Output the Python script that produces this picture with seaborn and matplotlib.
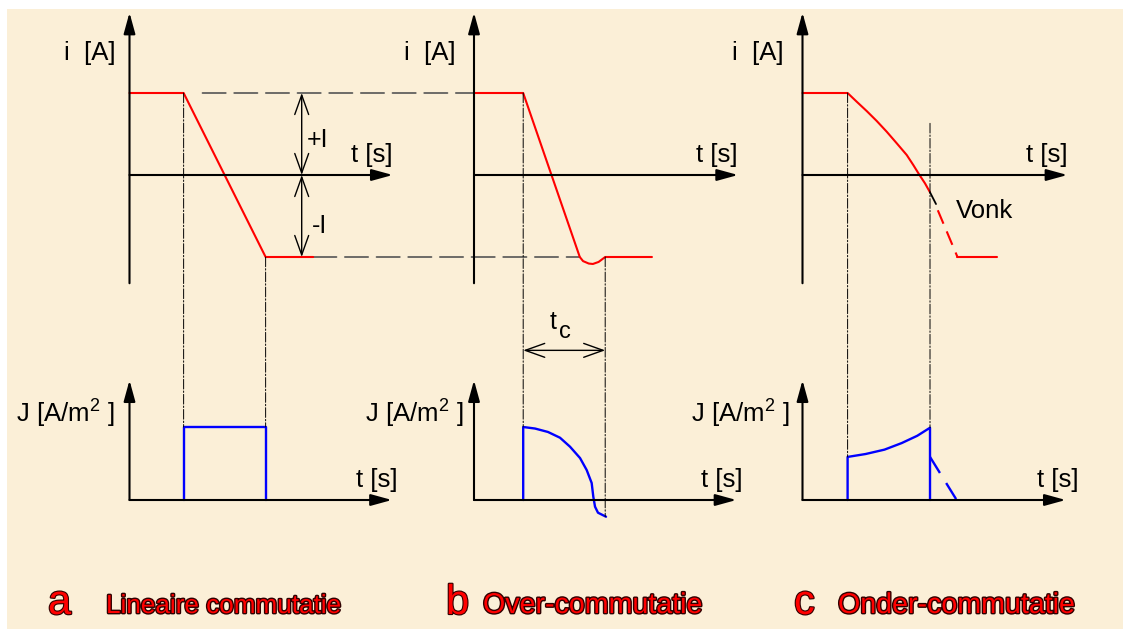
import matplotlib
matplotlib.use("Agg")
import matplotlib.pyplot as plt
import matplotlib.patheffects as pe
from matplotlib.patches import ConnectionPatch, Rectangle
import seaborn as sns

sns.set_style("white")
plt.rcParams["font.family"] = ["Liberation Sans", "DejaVu Sans"]
plt.rcParams["text.color"] = "black"

# ---------------------------------------------------------------------------
# Current i(t) in units of I, time in units of the commutation period
# ---------------------------------------------------------------------------
t_lin = [0.0, 0.66, 1.66, 2.24]
i_lin = [1.0, 1.0, -1.0, -1.0]

t_over = [0.0, 0.60, 1.29, 1.33, 1.40, 1.45, 1.52, 1.60, 2.17]
i_over = [1.0, 1.0, -1.0, -1.05, -1.08, -1.085, -1.06, -1.0, -1.0]

t_under = [0.0, 0.55, 0.661, 0.783, 0.905, 1.027, 1.149, 1.271, 1.351,
           1.421, 1.494, 1.555]
i_under = [1.0, 1.0, 0.894, 0.780, 0.659, 0.528, 0.387, 0.244, 0.122,
           0.009, -0.102, -0.211]
t_spark_arc = [1.555, 1.628]
i_spark_arc = [-0.211, -0.354]
t_spark = [1.65, 1.89]
i_spark = [-0.43, -1.0]
t_under_end = [1.89, 2.37]
i_under_end = [-1.0, -1.0]

# ---------------------------------------------------------------------------
# Current density J(t) under the brush, in units of the nominal density
# ---------------------------------------------------------------------------
tJ_lin = [0.66, 0.66, 1.66, 1.66]
J_lin = [0.0, 1.0, 1.0, 0.0]

tJ_over = [0.60, 0.60, 0.744, 0.902, 1.049, 1.171, 1.293, 1.374, 1.435,
           1.455, 1.476, 1.512, 1.61]
J_over = [0.0, 1.0, 0.979, 0.932, 0.853, 0.730, 0.575, 0.411, 0.233,
          0.045, -0.092, -0.174, -0.229]

tJ_under = [0.55, 0.55, 0.77, 1.00, 1.21, 1.40, 1.555, 1.555]
J_under = [0.0, 0.59, 0.63, 0.69, 0.78, 0.88, 0.99, 0.0]
tJ_under_tail = [1.555, 1.88]
J_under_tail = [0.59, 0.0]

# guide lines: (t, level in i-plot, level in J-plot)
guides = [
    [(0.66, 1.0, 1.0), (1.66, -1.0, 1.0)],
    [(0.60, 1.0, 1.0), (1.60, -1.0, -0.229)],
    [(0.55, 1.0, 0.59), (1.555, 0.63, 0.99)],
]

letters = ["a", "b", "c"]
titles = ["Lineaire commutatie", "Over-commutatie", "Onder-commutatie"]

# ---------------------------------------------------------------------------
# Layout (pixels)
# ---------------------------------------------------------------------------
W, H = 1123, 629
BG = "#FBEFD7"
RED = "#FF0000"
BLUE = "#0000FF"
PX_T, PX_I, PX_J = 82, 82, 73
ORIGIN_X = [129.5, 474, 802.5]
ORIGIN_Y_I, ORIGIN_Y_J = 175, 500
TMAX_I = [3.21, 3.22, 3.23]
TMAX_J = [3.20, 3.20, 3.21]
I_LO, I_HI = -1.32, 1.98
J_LO, J_HI = -0.30, 1.64

fig = plt.figure(figsize=(W / 100, H / 100), dpi=100)
fig.patch.set_facecolor("white")
fig.add_artist(Rectangle((7 / W, 0), (W - 7) / W, (H - 9) / H,
                         transform=fig.transFigure, facecolor=BG,
                         edgecolor="none", zorder=-10))


def make_axes(x0, y0, t_max, lo, hi, px_v):
    left = x0 / W
    bottom = (H - (y0 - lo * px_v)) / H
    ax = fig.add_axes([left, bottom, t_max * PX_T / W, (hi - lo) * px_v / H])
    ax.set_xlim(0, t_max)
    ax.set_ylim(lo, hi)
    ax.set_axis_off()
    return ax


def axis_arrows(ax, y_start):
    x1 = ax.get_xlim()[1]
    y1 = ax.get_ylim()[1]
    props = dict(arrowstyle="-|>,head_length=0.8,head_width=0.22",
                 mutation_scale=16, lw=1.5, color="black",
                 shrinkA=0, shrinkB=0)
    ax.annotate("", xy=(x1, 0), xytext=(0, 0), arrowprops=props,
                annotation_clip=False)
    ax.annotate("", xy=(0, y1), xytext=(0, y_start), arrowprops=props,
                annotation_clip=False)


def curve(ax, t, v, color, **kw):
    sns.lineplot(x=t, y=v, ax=ax, color=color, sort=False, estimator=None,
                 legend=False, clip_on=False, **kw)


LBL = 18.5
ax_i, ax_J = [], []
for k in range(3):
    ai = make_axes(ORIGIN_X[k], ORIGIN_Y_I, TMAX_I[k], I_LO, I_HI, PX_I)
    aj = make_axes(ORIGIN_X[k], ORIGIN_Y_J, TMAX_J[k], J_LO, J_HI, PX_J)
    axis_arrows(ai, I_LO)
    axis_arrows(aj, 0.0)
    ax_i.append(ai)
    ax_J.append(aj)

# axis labels
i_label_x = [-0.17, -0.23, -0.23]
J_label_x = [-0.18, -0.13, -0.16]
tJ_label_x = [3.27, 3.28, 3.37]
for k in range(3):
    ax_i[k].text(i_label_x[k], 1.49, "i  [A]", fontsize=LBL, ha="right",
                 va="center")
    ax_i[k].text(TMAX_I[k], 0.16, "t [s]", fontsize=LBL, ha="right",
                 va="baseline")
    ax_J[k].text(J_label_x[k], 1.08, r"J [A/m$^{\mathregular{2}}$ ]",
                 fontsize=LBL, ha="right", va="baseline")
    ax_J[k].text(tJ_label_x[k], 0.18, "t [s]", fontsize=LBL, ha="right",
                 va="baseline")

# current curves
curve(ax_i[0], t_lin, i_lin, RED, lw=1.5)
curve(ax_i[1], t_over, i_over, RED, lw=1.5)
curve(ax_i[2], t_under, i_under, RED, lw=1.5)
curve(ax_i[2], t_spark_arc, i_spark_arc, "black", lw=1.3)
curve(ax_i[2], t_spark, i_spark, RED, lw=1.5, linestyle=(0, (7, 4)))
curve(ax_i[2], t_under_end, i_under_end, RED, lw=1.5)
ax_i[2].text(1.866, -0.524, "Vonk", fontsize=LBL, ha="left", va="baseline")

# current density curves
curve(ax_J[0], tJ_lin, J_lin, BLUE, lw=1.7)
curve(ax_J[1], tJ_over, J_over, BLUE, lw=1.7)
curve(ax_J[2], tJ_under, J_under, BLUE, lw=1.7)
curve(ax_J[2], tJ_under_tail, J_under_tail, BLUE, lw=1.7,
      linestyle=(0, (8, 5)))

# dash-dot guides between the i and J diagrams
for k in range(3):
    for t, iv, jv in guides[k]:
        fig.add_artist(ConnectionPatch(
            xyA=(t, iv), coordsA=ax_i[k].transData,
            xyB=(t, jv), coordsB=ax_J[k].transData,
            lw=0.7, color="black", linestyle=(0, (10, 2, 1.5, 2))))

# dashed level lines from panel a to panel b
fig.add_artist(ConnectionPatch(
    xyA=(0.89, 1.0), coordsA=ax_i[0].transData,
    xyB=(0.0, 1.0), coordsB=ax_i[1].transData,
    lw=1.2, color="#555555", linestyle=(0, (14, 5)), zorder=0))
fig.add_artist(ConnectionPatch(
    xyA=(t_lin[-1], -1.0), coordsA=ax_i[0].transData,
    xyB=(1.29, -1.0), coordsB=ax_i[1].transData,
    lw=1.2, color="#555555", linestyle=(0, (14, 5)), zorder=0))

# +I / -I dimension arrows
dim = dict(arrowstyle="<->,head_length=0.7,head_width=0.25",
           mutation_scale=20, lw=1.0, color="black", shrinkA=0, shrinkB=0)
ax_i[0].annotate("", xy=(2.10, 1.0), xytext=(2.10, 0.0), arrowprops=dim,
                 annotation_clip=False)
ax_i[0].annotate("", xy=(2.10, -1.0), xytext=(2.10, 0.0), arrowprops=dim,
                 annotation_clip=False)
ax_i[0].text(2.16, 0.34, "+I", fontsize=18, ha="left", va="baseline")
ax_i[0].text(2.22, -0.71, "-I", fontsize=18, ha="left", va="baseline")

# commutation time t_c
ax_J[1].annotate("", xy=(guides[1][1][0], 2.05), xytext=(guides[1][0][0], 2.05),
                 arrowprops=dim, annotation_clip=False)
ax_J[1].text(0.92, 2.34, "t", fontsize=18, ha="left", va="baseline")
ax_J[1].text(1.04, 2.22, "c", fontsize=17, ha="left", va="baseline")

# captions
stroke = [pe.withStroke(linewidth=2.0, foreground="#300000")]
letter_x = [48, 446, 794]
title_x = [106, 483, 838]
title_size = [18.8, 20.6, 20.6]
for k in range(3):
    fig.text(letter_x[k] / W, 1 - 614 / H, letters[k], fontsize=30,
             color=RED, ha="left", va="baseline",
             path_effects=[pe.withStroke(linewidth=1.6, foreground="#300000")])
    fig.text(title_x[k] / W, 1 - 613 / H, titles[k], fontsize=title_size[k],
             color=RED, ha="left", va="baseline", path_effects=stroke)

fig.savefig("out.png", dpi=100, facecolor=fig.get_facecolor())
